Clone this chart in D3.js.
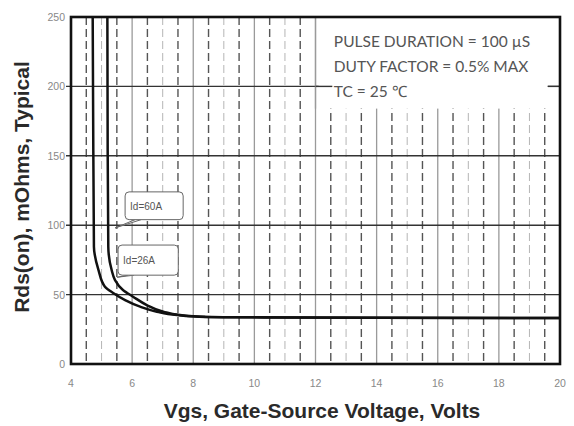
<!DOCTYPE html>
<meta charset="utf-8">
<style>
body { margin: 0; background: #fff; }
text { font-family: "Liberation Sans", Arial, sans-serif; }
.tick-lbl { font-size: 10.5px; fill: #888; }
.title { font-size: 21px; font-weight: bold; fill: #2a2a2a; }
.note { font-family: Lato, "Open Sans", sans-serif; font-size: 15.5px; fill: #555; }
.tag { font-size: 10px; fill: #555; }
</style>
<svg width="574" height="426"></svg>
<script src="https://cdn.jsdelivr.net/npm/d3@7"></script>
<script>

// Rds(on) vs Vgs
var vgs26 = [4.71, 4.73, 4.75, 4.90, 5.11, 5.38, 5.77, 6.26, 6.81, 7.47, 8.33, 10, 14, 20];
var rds26 = [250, 154, 84.5, 67.7, 55.7, 51.2, 46.1, 41.3, 37.7, 35.3, 34.1, 33.6, 33.3, 33.1];
var vgs60 = [5.19, 5.20, 5.22, 5.33, 5.44, 5.70, 6.03, 6.48, 7.02, 7.57, 8.39, 10, 14, 20];
var rds60 = [250, 154, 84.5, 67.7, 60.5, 53.3, 48.5, 42.5, 37.7, 35.3, 33.9, 33.6, 33.3, 33.1];

var xTicks = [4, 6, 8, 10, 12, 14, 16, 18, 20];
var yTicks = [0, 50, 100, 150, 200, 250];
var noteLines = ["PULSE DURATION = 100 \u00b5S", "DUTY FACTOR = 0.5% MAX", "TC = 25 \u2103"];
var tagNames = ["Id=60A", "Id=26A"];
// box corners [x0, x1, yTop, yBottom] and pointer tip [x, y] in data units
var tagBoxes = [[5.77, 7.67, 124, 104], [5.54, 7.51, 85.7, 64]];
var tagTips = [[5.44, 98], [5.51, 62.5]];

var svg = d3.select("svg"),
    margin = {top: 17, right: 14, bottom: 62, left: 71},
    width = 574 - margin.left - margin.right,
    height = 426 - margin.top - margin.bottom,
    g = svg.append("g").attr("transform", "translate(" + margin.left + "," + margin.top + ")");

var x = d3.scaleLinear().domain([4, 20]).range([0, width]),
    y = d3.scaleLinear().domain([0, 250]).range([height, 0]);

// minor dashed verticals every 0.5 V
var minor = d3.range(4.5, 20, 0.5).filter(function(v) { return v % 2 !== 0; });
g.selectAll(".minor").data(minor).enter().append("line")
    .attr("x1", x).attr("x2", x).attr("y1", 0).attr("y2", height)
    .attr("stroke", function(v) { return v % 1 === 0 ? "#b5b5b5" : "#555"; })
    .attr("stroke-width", function(v) { return v % 1 === 0 ? 1 : 1.4; })
    .attr("stroke-dasharray", "8,4");

// solid verticals every 2 V
g.selectAll(".vmaj").data(xTicks.slice(1, -1)).enter().append("line")
    .attr("x1", x).attr("x2", x).attr("y1", 0).attr("y2", height)
    .attr("stroke", "#9a9a9a").attr("stroke-width", 1.3);

// horizontal grid
g.selectAll(".hmaj").data(yTicks.slice(1, -1)).enter().append("line")
    .attr("x1", -5).attr("x2", width).attr("y1", y).attr("y2", y)
    .attr("stroke", "#333").attr("stroke-width", 1.4);

// white note box
g.append("rect")
    .attr("x", x(12.1)).attr("y", 0)
    .attr("width", x(19.6) - x(12.1)).attr("height", y(184))
    .attr("fill", "#fff");
g.append("line").attr("x1", x(12)).attr("x2", x(12)).attr("y1", 0).attr("y2", y(184))
    .attr("stroke", "#9a9a9a").attr("stroke-width", 1.3);
g.selectAll(".seg").data([[12, 12.55], [19.6, 20]]).enter().append("line")
    .attr("x1", function(d) { return x(d[0]); }).attr("x2", function(d) { return x(d[1]); })
    .attr("y1", y(200)).attr("y2", y(200))
    .attr("stroke", "#333").attr("stroke-width", 1.4);

g.append("g").selectAll("text").data(noteLines).enter().append("text")
    .attr("class", "note")
    .attr("x", x(12.6))
    .attr("y", function(d, i) { return 30 + i * 25; })
    .text(function(d) { return d; });

// curves
var line = d3.line()
    .x(function(d) { return x(d[0]); })
    .y(function(d) { return y(d[1]); })
    .curve(d3.curveMonotoneY);

[[vgs26, rds26], [vgs60, rds60]].forEach(function(s) {
  var pts = s[0].map(function(v, i) { return [v, s[1][i]]; });
  g.append("path")
      .attr("d", line(pts))
      .attr("fill", "none").attr("stroke", "#111").attr("stroke-width", 2.5);
});

// Id tags
tagNames.forEach(function(name, i) {
  var b = tagBoxes[i], t = tagTips[i];
  var x0 = x(b[0]), x1 = x(b[1]), y0 = y(b[2]), y1 = y(b[3]);
  g.append("path")
      .attr("d", "M" + (x0 + 10) + "," + y1 + "L" + x(t[0]) + "," + y(t[1]) + "L" + (x0 + 16) + "," + y1)
      .attr("fill", "#fff").attr("stroke", "#666").attr("stroke-width", 1);
  g.append("rect")
      .attr("x", x0).attr("y", y0).attr("width", x1 - x0).attr("height", y1 - y0)
      .attr("rx", 4).attr("fill", "#fff").attr("stroke", "#666").attr("stroke-width", 1);
  g.append("text").attr("class", "tag")
      .attr("x", x0 + 5).attr("y", (y0 + y1) / 2 + 4)
      .text(name);
});

// frame
g.append("rect").attr("width", width).attr("height", height)
    .attr("fill", "none").attr("stroke", "#111").attr("stroke-width", 2.6);

// tick labels
g.selectAll(".xl").data(xTicks).enter().append("text")
    .attr("class", "tick-lbl")
    .attr("x", x).attr("y", height + 23)
    .attr("text-anchor", "middle")
    .text(function(d) { return d; });
g.selectAll(".yl").data(yTicks).enter().append("text")
    .attr("class", "tick-lbl")
    .attr("x", -6).attr("y", function(d) { return y(d) + 4; })
    .attr("text-anchor", "end")
    .text(function(d) { return d; });

// axis titles
svg.append("text").attr("class", "title")
    .attr("text-anchor", "middle")
    .attr("x", 322).attr("y", 418)
    .text("Vgs, Gate-Source Voltage, Volts");
svg.append("text").attr("class", "title")
    .attr("text-anchor", "middle")
    .attr("transform", "translate(29,187) rotate(-90)")
    .text("Rds(on), mOhms, Typical");

</script>
